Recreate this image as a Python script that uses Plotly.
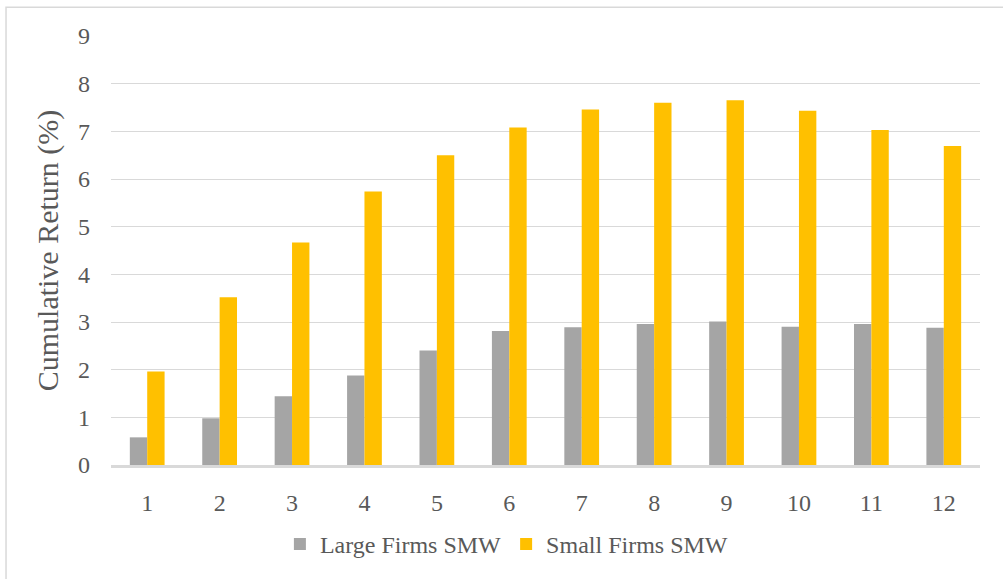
import plotly.graph_objects as go

# Holding period (months) and cumulative returns (%) for each firm-size group
months = ["1", "2", "3", "4", "5", "6", "7", "8", "9", "10", "11", "12"]
large_firms = [0.58, 0.98, 1.44, 1.88, 2.40, 2.81, 2.89, 2.96, 3.01, 2.90, 2.96, 2.88]
small_firms = [1.96, 3.52, 4.67, 5.74, 6.50, 7.08, 7.46, 7.60, 7.65, 7.43, 7.03, 6.69]
y_ticks = [0, 1, 2, 3, 4, 5, 6, 7, 8, 9]

FONT = "Times New Roman, Liberation Serif, DejaVu Serif, serif"
TEXT = "#595959"
GRID = "#d9d9d9"

fig = go.Figure()
fig.add_trace(go.Bar(x=months, y=large_firms, name="Large Firms SMW",
                     marker=dict(color="#A5A5A5", line=dict(width=0))))
fig.add_trace(go.Bar(x=months, y=small_firms, name="Small Firms SMW",
                     marker=dict(color="#FFC000", line=dict(width=0))))

fig.update_layout(
    width=1003, height=579,
    margin=dict(l=111, r=23, t=36, b=112),
    paper_bgcolor="white", plot_bgcolor="white",
    barmode="group", bargap=0.52, bargroupgap=0,
    font=dict(family=FONT, size=24, color=TEXT),
    showlegend=True,
    legend=dict(orientation="h", x=0.455, xanchor="center", y=-0.185, yanchor="middle",
                font=dict(family=FONT, size=24, color=TEXT), itemwidth=30,
                traceorder="normal"),
    xaxis=dict(showgrid=False, showline=True, linecolor=GRID, linewidth=2.5,
               ticks="", ticklabelstandoff=14,
               tickfont=dict(family=FONT, size=24, color=TEXT)),
    yaxis=dict(range=[0, 9], tickvals=y_ticks, showgrid=True, gridcolor=GRID,
               gridwidth=1.3, zeroline=False, showline=False, ticks="",
               ticklabelstandoff=20, tickfont=dict(family=FONT, size=24, color=TEXT),
               title=dict(text="Cumulative Return (%)", standoff=10,
                          font=dict(family=FONT, size=30, color=TEXT))),
    shapes=[dict(type="rect", xref="paper", yref="paper",
                 x0=-0.1208, x1=1.2, y0=-0.5, y1=1.0673,
                 line=dict(color=GRID, width=1.5), layer="below")],
)

fig.write_html("out.html")
